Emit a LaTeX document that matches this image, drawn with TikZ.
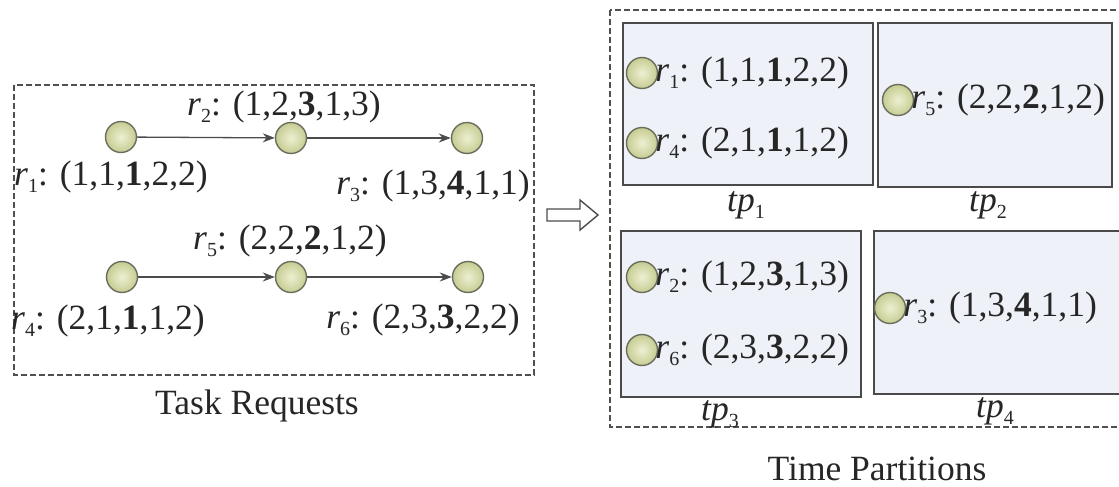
\documentclass[tikz,border=0pt]{standalone}
\usepackage{fontspec}
\setmainfont{Liberation Serif}
\usetikzlibrary{arrows.meta}
\definecolor{dotin}{HTML}{EEF0D2}
\definecolor{dotout}{HTML}{C6CC92}
\definecolor{dotline}{HTML}{6A6D5C}
\definecolor{partfill}{HTML}{EEF2F8}
\definecolor{partline}{HTML}{4A4A4A}
\definecolor{dashcol}{HTML}{505050}
\newcommand\lfont{\fontsize{35.5}{40}\selectfont}
\newcommand\sub[1]{\raisebox{-0.2em}{\fontsize{20}{20}\selectfont #1}}
\newcommand\rl[2]{\textit{r}\sub{#1}: #2}
\newcommand\tpl[1]{\textit{tp}\sub{#1}}
\tikzset{
  dot/.style={circle, draw=dotline, line width=1.4pt, inner color=dotin, outer color=dotout, minimum size=31pt, inner sep=0pt},
  lbl/.style={font=\lfont, inner sep=0pt, text=black!85},
  part/.style={draw=partline, fill=partfill, line width=1.6pt},
  dbox/.style={draw=dashcol, line width=1.3pt, dash pattern=on 6pt off 3pt},
  link/.style={draw=black!70, line width=1.3pt, -{Stealth[length=12pt,width=9pt]}},
  hollow/.style={draw=black!70, line width=1.4pt, fill=white}
}
\begin{document}
\begin{tikzpicture}[x=1pt,y=-1pt]
\useasboundingbox (0,0) rectangle (1119,487);
% ---------- left panel ----------
\draw[dbox] (14,85) rectangle (534,375);
\node[dot] (a1) at (121,137) {};
\node[dot] (a2) at (291,138) {};
\node[dot] (a3) at (467,138) {};
\node[dot] (a4) at (122,277) {};
\node[dot] (a5) at (291,277) {};
\node[dot] (a6) at (468,277) {};
\draw[link] (a1) -- (a2);
\draw[link] (a2) -- (a3);
\draw[link] (a4) -- (a5);
\draw[link] (a5) -- (a6);
\node[lbl] (la2) at (284,107) {\rl{2}{(1,2,\textbf{3},1,3)}};
\node[lbl, anchor=west] (la1) at (14,177) {\rl{1}{(1,1,\textbf{1},2,2)}};
\node[lbl, anchor=east] (la3) at (530,186) {\rl{3}{(1,3,\textbf{4},1,1)}};
\node[lbl] (la5) at (290,241) {\rl{5}{(2,2,\textbf{2},1,2)}};
\node[lbl, anchor=west] (la4) at (11,321) {\rl{4}{(2,1,\textbf{1},1,2)}};
\node[lbl, anchor=east] (la6) at (520,320) {\rl{6}{(2,3,\textbf{3},2,2)}};
\node[lbl] (tr) at (257,406) {Task Requests};
% ---------- arrow ----------
\draw[hollow] (547,209) -- (580,209) -- (580,200) -- (598,215) -- (580,230) -- (580,221) -- (547,221) -- cycle;
% ---------- right panel ----------
\draw[dbox] (610,10) rectangle (1130,427);
\draw[part] (623,23) rectangle (873,185);
\draw[part] (878,23) rectangle (1112,187);
\draw[part] (621,231) rectangle (861,397);
\draw[part] (874,231) rectangle (1130,394);
\node[dot] (b1) at (642,73) {};
\node[dot] (b4) at (642,143) {};
\node[dot] (b5) at (898,100) {};
\node[dot] (b2) at (642,277) {};
\node[dot] (b6) at (642,350) {};
\node[dot] (b3) at (890,308) {};
\node[lbl, anchor=west] (lb1) at ([xshift=-3pt]b1.east) {\rl{1}{(1,1,\textbf{1},2,2)}};
\node[lbl, anchor=west] (lb4) at ([xshift=-3pt]b4.east) {\rl{4}{(2,1,\textbf{1},1,2)}};
\node[lbl, anchor=west] (lb5) at ([xshift=-3pt]b5.east) {\rl{5}{(2,2,\textbf{2},1,2)}};
\node[lbl, anchor=west] (lb2) at ([xshift=-3pt]b2.east) {\rl{2}{(1,2,\textbf{3},1,3)}};
\node[lbl, anchor=west] (lb6) at ([xshift=-3pt]b6.east) {\rl{6}{(2,3,\textbf{3},2,2)}};
\node[lbl, anchor=west] (lb3) at ([xshift=-3pt]b3.east) {\rl{3}{(1,3,\textbf{4},1,1)}};
\node[lbl] (t1) at (746,205) {\tpl{1}};
\node[lbl] (t2) at (988,205) {\tpl{2}};
\node[lbl] (t3) at (720,414) {\tpl{3}};
\node[lbl] (t4) at (995,411) {\tpl{4}};
\node[lbl] (tpt) at (877,469) {Time Partitions};
\end{tikzpicture}
\end{document}
